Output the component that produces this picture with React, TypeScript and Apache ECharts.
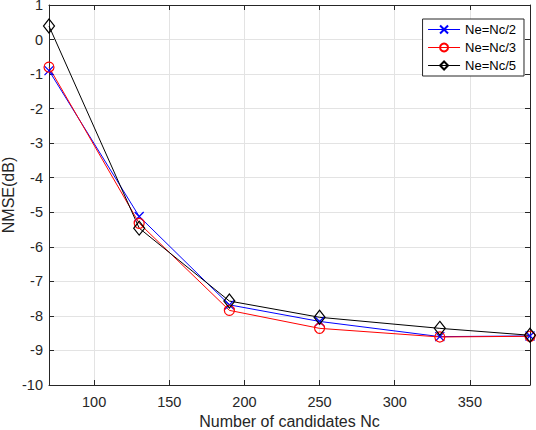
import React, { useEffect, useRef } from "react";
import * as echarts from "echarts";

const candidates = [70, 130, 190, 250, 330, 390];
const neHalf = [-0.9, -5.12, -7.68, -8.16, -8.6, -8.58];
const neThird = [-0.8, -5.32, -7.84, -8.36, -8.61, -8.59];
const neFifth = [0.39, -5.46, -7.57, -8.04, -8.36, -8.56];
const xTicks = [100, 150, 200, 250, 300, 350];
const seriesNames = ["Ne=Nc/2", "Ne=Nc/3", "Ne=Nc/5"];

const FONT = "'Liberation Sans', Arial, Helvetica, sans-serif";
const AX = "#262626";

export default function App() {
  const ref = useRef<HTMLDivElement>(null);
  useEffect(() => {
    document.body.style.margin = "0";
    const chart = echarts.init(ref.current!, null, { renderer: "svg" });
    const pts = (ys: number[]) => candidates.map((x, i) => [x, ys[i]]);
    const axisCommon = {
      axisLine: { show: true, onZero: false, lineStyle: { color: AX, width: 1 } },
      axisTick: { show: true, inside: true, length: 5, lineStyle: { color: AX } },
    };
    chart.setOption({
      animation: false,
      backgroundColor: "#fff",
      textStyle: { fontFamily: FONT },
      grid: { left: 49, top: 5, right: 6, bottom: 45, containLabel: false, outerBoundsMode: "none" },
      legend: {
        orient: "vertical",
        top: 19,
        right: 12,
        itemWidth: 32,
        itemHeight: 10,
        itemGap: 5,
        padding: [4, 8, 4, 5],
        backgroundColor: "#fff",
        borderColor: AX,
        borderWidth: 1,
        borderRadius: 0,
        lineStyle: { width: 1 },
        textStyle: { fontFamily: FONT, fontSize: 13, color: "#000" },
        data: seriesNames,
      },
      xAxis: [
        {
          type: "value",
          min: 70,
          max: 390,
          position: "bottom",
          name: "Number of candidates Nc",
          nameLocation: "middle",
          nameGap: 28,
          nameMoveOverlap: false,
          nameTextStyle: { fontSize: 16, color: AX, fontFamily: FONT },
          ...axisCommon,
          axisTick: { ...axisCommon.axisTick, customValues: xTicks },
          axisLabel: { customValues: xTicks, fontSize: 14.5, color: AX, margin: 9, fontFamily: FONT },
          splitLine: { show: true, lineStyle: { color: "#e3e3e3", width: 1 } },
        },
        {
          type: "value",
          min: 70,
          max: 390,
          position: "top",
          ...axisCommon,
          axisTick: { ...axisCommon.axisTick, customValues: xTicks },
          axisLabel: { show: false },
          splitLine: { show: false },
        },
      ],
      yAxis: [
        {
          type: "value",
          min: -10,
          max: 1,
          interval: 1,
          position: "left",
          name: "NMSE(dB)",
          nameLocation: "middle",
          nameGap: 33,
          nameMoveOverlap: false,
          nameTextStyle: { fontSize: 16, color: AX, fontFamily: FONT },
          ...axisCommon,
          axisLabel: { fontSize: 14.5, lineHeight: 11, color: AX, margin: 6, fontFamily: FONT },
          splitLine: { show: true, lineStyle: { color: "#e3e3e3", width: 1 } },
        },
        {
          type: "value",
          min: -10,
          max: 1,
          interval: 1,
          position: "right",
          ...axisCommon,
          axisLabel: { show: false },
          splitLine: { show: false },
        },
      ],
      series: [
        {
          name: seriesNames[0],
          type: "line",
          data: pts(neHalf),
          symbol: "path://M0,0L10,10M10,0L0,10",
          symbolSize: 9,
          showAllSymbol: true,
          lineStyle: { color: "#0000ff", width: 1 },
          itemStyle: { color: "none", borderColor: "#0000ff", borderWidth: 1.3 },
          emphasis: { disabled: true },
        },
        {
          name: seriesNames[1],
          type: "line",
          data: pts(neThird),
          symbol: "circle",
          symbolSize: 10,
          lineStyle: { color: "#ff0000", width: 1 },
          itemStyle: { color: "none", borderColor: "#ff0000", borderWidth: 1.2 },
          emphasis: { disabled: true },
        },
        {
          name: seriesNames[2],
          type: "line",
          data: pts(neFifth),
          symbol: "path://M5,0L10,7L5,14L0,7Z",
          symbolSize: [11, 14],
          lineStyle: { color: "#000000", width: 1 },
          itemStyle: { color: "none", borderColor: "#000000", borderWidth: 1.2 },
          emphasis: { disabled: true },
        },
      ],
    });
    return () => chart.dispose();
  }, []);
  return <div ref={ref} style={{ width: 536, height: 430 }} />;
}
